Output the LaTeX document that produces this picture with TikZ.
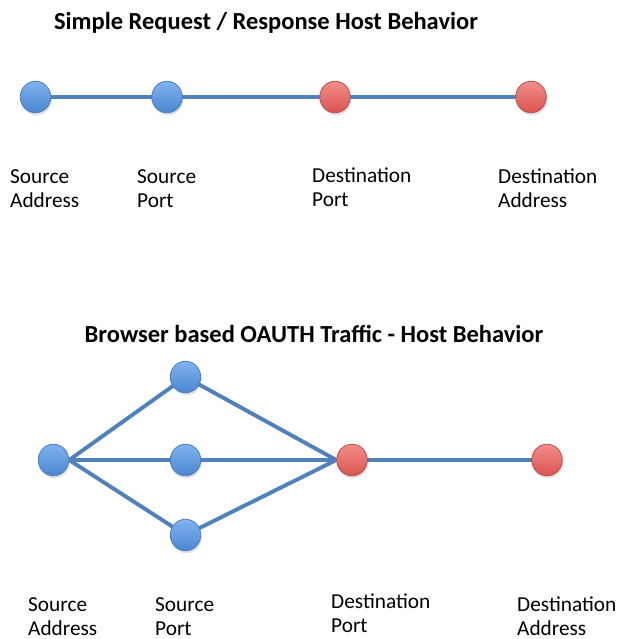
\documentclass[tikz,border=0pt]{standalone}
\usepackage{fontspec}
\setmainfont{Carlito}
\usetikzlibrary{shadows,backgrounds,shapes.geometric}

\definecolor{linkblue}{HTML}{4F81BD}
\definecolor{blueTop}{HTML}{7FB3EE}
\definecolor{blueBot}{HTML}{4C86D2}
\definecolor{blueEdge}{HTML}{4A7EBE}
\definecolor{redTop}{HTML}{F28E8A}
\definecolor{redBot}{HTML}{DA534F}
\definecolor{redEdge}{HTML}{BE4B48}

\tikzset{
  host/.style={ellipse, minimum width=30.5pt, minimum height=31.5pt, inner sep=0pt,
    line width=0.8pt, drop shadow={shadow xshift=1pt, shadow yshift=-2.5pt, opacity=0.25}},
  srcnode/.style={host, draw=blueEdge, top color=blueTop, bottom color=blueBot},
  dstnode/.style={host, draw=redEdge, top color=redTop, bottom color=redBot},
  link/.style={draw=linkblue, line width=3.9pt},
  heading/.style={anchor=base, font=\bfseries\fontsize{24.5}{28}\selectfont, inner sep=0pt},
  % the base anchor of a two-line caption sits on its second line
  caption/.style={anchor=base west, align=left, inner sep=0pt,
    font=\fontsize{21.3}{23.5}\selectfont},
}

\begin{document}
\begin{tikzpicture}[x=1pt, y=-1pt]
  \useasboundingbox (0,0) rectangle (617,639);

  % ---- simple request / response ----
  \node[heading] (t1) at (266,30) {Simple Request / Response Host Behavior};

  \node[srcnode] (sa1) at (35.5,97) {};
  \node[srcnode] (sp1) at (167,97) {};
  \node[dstnode] (dp1) at (335,97) {};
  \node[dstnode] (da1) at (531,97) {};

  \begin{scope}[on background layer]
    \draw[link] (sa1.center) -- (sp1.center) -- (dp1.center) -- (da1.center);
  \end{scope}

  \node[caption] (lsa1) at (10,207) {Source\\Address};
  \node[caption] (lsp1) at (137,207) {Source\\Port};
  \node[caption] (ldp1) at (312,206) {Destination\\Port};
  \node[caption] (lda1) at (498,207) {Destination\\Address};

  % ---- browser based OAUTH traffic ----
  \node[heading] (t2) at (314,342) {Browser based OAUTH Traffic - Host Behavior};

  \node[srcnode] (sa2) at (53.5,460) {};
  \node[srcnode] (spa) at (185.5,377) {};
  \node[srcnode] (spb) at (185.5,460) {};
  \node[srcnode] (spc) at (185.5,535) {};
  \node[dstnode] (dp2) at (352,460) {};
  \node[dstnode] (da2) at (547,460) {};

  \begin{scope}[on background layer]
    \foreach \p in {spa,spb,spc}{
      \draw[link] (sa2.east) -- (\p.center) -- (dp2.west);
    }
    \draw[link] (dp2.center) -- (da2.center);
  \end{scope}

  \node[caption] (lsa2) at (28,635) {Source\\Address};
  \node[caption] (lsp2) at (155,635) {Source\\Port};
  \node[caption] (ldp2) at (331,632) {Destination\\Port};
  \node[caption] (lda2) at (517,635) {Destination\\Address};
\end{tikzpicture}
\end{document}
